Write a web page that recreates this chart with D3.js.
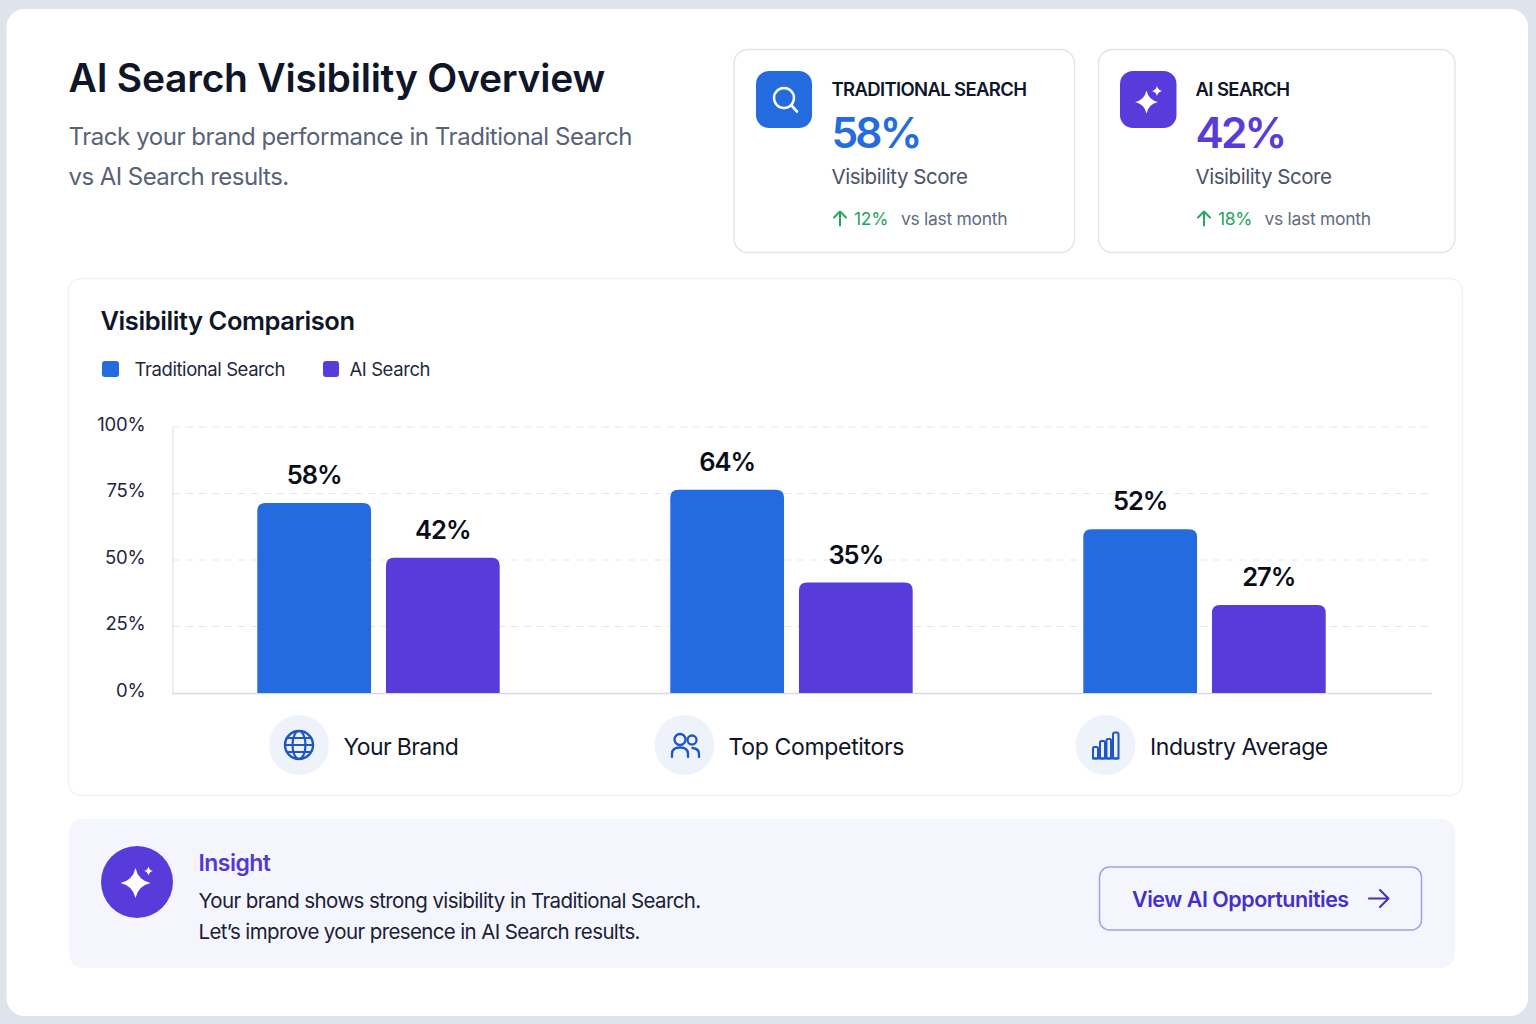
<!DOCTYPE html>
<html>
<head>
<meta charset="utf-8">
<script src="https://cdn.jsdelivr.net/npm/d3@7"></script>
<style>
  html, body { margin: 0; padding: 0; background: #dfe3ec; }
  svg { display: block; }
  text { font-family: "Inter", "Noto Sans", sans-serif; }
</style>
</head>
<body>
<div id="chart"></div>
<script>
// values
var categories = ["Your Brand", "Top Competitors", "Industry Average"]
var seriesNames = ["Traditional Search", "AI Search"]
// bar tops as they sit against the printed axis
var traditionalBars = [71.4, 76.4, 61.6]
var aiBars = [50.8, 41.5, 33.1]
// numbers printed above the bars
var traditionalLabels = ["58%", "64%", "52%"]
var aiLabels = ["42%", "35%", "27%"]
var yTicks = [0, 25, 50, 75, 100]

var blue = "#256be0", purple = "#583bdb", ink = "#0f1629"
var width = 1536, height = 1024

var svg = d3.select("#chart").append("svg")
  .attr("width", width)
  .attr("height", height)

function label(x, y, str, size, weight, color, spacing) {
  return svg.append("text")
    .attr("x", x).attr("y", y)
    .attr("font-size", size)
    .attr("font-weight", weight)
    .attr("fill", color)
    .attr("letter-spacing", spacing || 0)
    .text(str)
}
function box(x, y, w, h, r, fill, stroke) {
  return svg.append("rect")
    .attr("x", x).attr("y", y).attr("width", w).attr("height", h).attr("rx", r)
    .attr("fill", fill).attr("stroke", stroke || "none")
}
// four pointed star
function sparkle(cx, cy, r, fill) {
  var k = r * 0.18
  svg.append("path")
    .attr("d", "M" + cx + "," + (cy - r)
      + "Q" + (cx + k) + "," + (cy - k) + " " + (cx + r) + "," + cy
      + "Q" + (cx + k) + "," + (cy + k) + " " + cx + "," + (cy + r)
      + "Q" + (cx - k) + "," + (cy + k) + " " + (cx - r) + "," + cy
      + "Q" + (cx - k) + "," + (cy - k) + " " + cx + "," + (cy - r) + "Z")
    .attr("fill", fill)
}
function strokePath(d, color, w) {
  return svg.append("path").attr("d", d)
    .attr("fill", "none").attr("stroke", color)
    .attr("stroke-width", w).attr("stroke-linecap", "round").attr("stroke-linejoin", "round")
}
function upArrow(x, y, color) {
  strokePath("M" + x + "," + (y + 7) + "V" + (y - 7) + "M" + (x - 6) + "," + (y - 1) + "L" + x + "," + (y - 7) + "L" + (x + 6) + "," + (y - 1), color, 2)
}

// page card
box(6.5, 9, 1521.5, 1007, 18, "#ffffff")

// header
label(68.5, 92, "AI Search Visibility Overview", 39, 600, ink, -0.24)
label(68.5, 145, "Track your brand performance in Traditional Search", 24, 400, "#586278", -0.44)
label(68.5, 185, "vs AI Search results.", 24, 400, "#586278", -0.56)

// stat cards
box(734, 49.5, 340.5, 203, 14, "#ffffff", "#e1e4eb").attr("stroke-width", 1.4)
box(756, 71, 56, 57, 13, blue)
svg.append("circle").attr("cx", 784).attr("cy", 98).attr("r", 10)
  .attr("fill", "none").attr("stroke", "#fff").attr("stroke-width", 2.4)
strokePath("M791.5,105.5L797,111.5", "#fff", 2.6)
label(831.5, 96, "TRADITIONAL SEARCH", 18.5, 600, ink, -0.65)
label(831.5, 148, "58%", 42.5, 600, blue, -2.9)
label(831.5, 184, "Visibility Score", 20.5, 400, "#4a5268", -0.45)
upArrow(840, 218.5, "#27a561")
label(854, 225, "12%", 17.5, 400, "#27a561", -0.3)
label(901, 225, "vs last month", 17.5, 400, "#626b7f", -0.3)

box(1098.5, 49.5, 356.5, 203, 14, "#ffffff", "#e1e4eb").attr("stroke-width", 1.4)
box(1120, 71, 56.5, 57, 13, purple)
sparkle(1146.5, 102, 11.5, "#fff")
sparkle(1157, 91, 5, "#fff")
label(1195.5, 96, "AI SEARCH", 18.5, 600, ink, -0.6)
label(1195.5, 148, "42%", 42.5, 600, purple, -2.9)
label(1195.5, 184, "Visibility Score", 20.5, 400, "#4a5268", -0.45)
upArrow(1204, 218.5, "#27a561")
label(1218, 225, "18%", 17.5, 400, "#27a561", -0.3)
label(1264.5, 225, "vs last month", 17.5, 400, "#626b7f", -0.3)

// chart panel
box(68.5, 278.5, 1394, 517, 13, "#ffffff", "#f0f2f6").attr("stroke-width", 1.4)
label(100.5, 330, "Visibility Comparison", 25.5, 600, ink, -0.43)

box(102, 361, 17, 16, 3, blue)
label(134.5, 376, seriesNames[0], 18.5, 400, "#1f2740", -0.42)
box(323, 361, 16, 16, 3, purple)
label(349.5, 376, seriesNames[1], 18.5, 400, "#1f2740", -0.42)

var y = d3.scaleLinear().domain([0, 100]).range([693, 427])
var x0 = d3.scaleBand().domain(categories).range([172, 1411])
var x1 = d3.scaleBand().domain(seriesNames).range([0, x0.bandwidth()])
  .paddingInner(0.116).paddingOuter(0.663)

// gridlines
svg.selectAll("line.grid")
  .data(yTicks.filter(function(d) { return d > 0 }))
  .enter().append("line")
    .attr("class", "grid")
    .attr("x1", 173).attr("x2", 1432)
    .attr("y1", function(d) { return y(d) })
    .attr("y2", function(d) { return y(d) })
    .attr("stroke", "#e4e7ed")
    .attr("stroke-dasharray", "7,6")

var yAxis = svg.append("g")
  .attr("transform", "translate(172.5,0)")
  .call(d3.axisLeft(y).tickValues(yTicks).tickSize(0).tickPadding(27)
    .tickFormat(function(d) { return d + "%" }))
yAxis.select(".domain").attr("stroke", "#d8dbe3")
yAxis.selectAll("text")
  .attr("dy", "0.18em")
  .attr("fill", "#1f2740")
  .attr("font-size", 18.5)
  .attr("font-family", "Inter")
  .attr("letter-spacing", -0.2)

svg.append("line")
  .attr("x1", 172).attr("x2", 1432)
  .attr("y1", y(0) + 0.5).attr("y2", y(0) + 0.5)
  .attr("stroke", "#d8dbe3").attr("stroke-width", 1.4)

// bars with rounded top corners
function barPath(xPos, w, val) {
  var top = y(val), base = y(0), r = 8
  return "M" + xPos + "," + base + "V" + (top + r)
    + "Q" + xPos + "," + top + " " + (xPos + r) + "," + top
    + "H" + (xPos + w - r)
    + "Q" + (xPos + w) + "," + top + " " + (xPos + w) + "," + (top + r)
    + "V" + base + "Z"
}
var barSeries = [
  { name: seriesNames[0], vals: traditionalBars, labels: traditionalLabels, color: blue },
  { name: seriesNames[1], vals: aiBars, labels: aiLabels, color: purple }
]
barSeries.forEach(function(s) {
  var rows = categories.map(function(c, i) { return { cat: c, val: s.vals[i], txt: s.labels[i] } })
  svg.selectAll("path.bar-" + s.color.slice(1))
    .data(rows).enter().append("path")
      .attr("d", function(d) { return barPath(x0(d.cat) + x1(s.name), x1.bandwidth(), d.val) })
      .attr("fill", s.color)
  svg.selectAll("text.val-" + s.color.slice(1))
    .data(rows).enter().append("text")
      .attr("x", function(d) { return x0(d.cat) + x1(s.name) + x1.bandwidth() / 2 })
      .attr("y", function(d) { return y(d.val) - 19 })
      .attr("text-anchor", "middle")
      .attr("font-size", 25.5)
      .attr("font-weight", 600)
      .attr("letter-spacing", -1)
      .attr("fill", "#0a0d18")
      .text(function(d) { return d.txt })
})

// category row
var iconBlue = "#1f55c4"
var iconCircle = "#eef2fb"
svg.append("circle").attr("cx", 299).attr("cy", 745).attr("r", 30).attr("fill", iconCircle)
svg.append("circle").attr("cx", 684.5).attr("cy", 745).attr("r", 30).attr("fill", iconCircle)
svg.append("circle").attr("cx", 1105.5).attr("cy", 745).attr("r", 30).attr("fill", iconCircle)

// globe
svg.append("circle").attr("cx", 299).attr("cy", 745).attr("r", 14)
  .attr("fill", "none").attr("stroke", iconBlue).attr("stroke-width", 2.4)
svg.append("ellipse").attr("cx", 299).attr("cy", 745).attr("rx", 6.5).attr("ry", 14)
  .attr("fill", "none").attr("stroke", iconBlue).attr("stroke-width", 2.2)
strokePath("M285,745H313M287,738H311M287,752H311", iconBlue, 2.1)

// people
svg.append("circle").attr("cx", 680).attr("cy", 739.5).attr("r", 5.5)
  .attr("fill", "none").attr("stroke", iconBlue).attr("stroke-width", 2.3)
svg.append("circle").attr("cx", 692).attr("cy", 740).attr("r", 4.5)
  .attr("fill", "none").attr("stroke", iconBlue).attr("stroke-width", 2.3)
strokePath("M672,757V754Q672,747.5 680,747.5Q688,747.5 688,754V757", iconBlue, 2.3)
strokePath("M692.5,748Q699,748.5 699,754V757", iconBlue, 2.3)

// bars icon
strokePath("M1093,758.5H1118.5", iconBlue, 2.2)
box(1093, 747, 5, 11.5, 1.5, "none", iconBlue).attr("stroke-width", 2)
box(1100, 741, 5, 17.5, 1.5, "none", iconBlue).attr("stroke-width", 2)
box(1106.5, 739, 4.5, 19.5, 1.5, "none", iconBlue).attr("stroke-width", 2)
box(1113, 732.5, 5.5, 26, 2, "none", iconBlue).attr("stroke-width", 2)

label(343.5, 754.5, categories[0], 23, 400, ink, -0.6)
label(728.5, 754.5, categories[1], 23, 400, ink, -0.33)
label(1150, 754.5, categories[2], 23, 400, ink, -0.44)

// insight panel
box(69, 819, 1386, 149, 14, "#f5f6fd")
svg.append("circle").attr("cx", 137).attr("cy", 882).attr("r", 36).attr("fill", purple)
sparkle(135.5, 883, 15, "#fff")
sparkle(148.5, 871, 4.5, "#fff")
label(198.5, 871, "Insight", 23, 600, "#5438d6", -0.55)
label(198.5, 907.5, "Your brand shows strong visibility in Traditional Search.", 20.5, 400, "#1a2036", -0.6)
label(198.5, 938.5, "Let\u2019s improve your presence in AI Search results.", 20.5, 400, "#1a2036", -0.63)

box(1099.5, 867, 322, 63, 10, "none", "#a99de6").attr("stroke-width", 1.5)
label(1132, 907, "View AI Opportunities", 21.5, 600, "#4430c8", -0.48)
strokePath("M1369,898.5H1388M1380,890L1388.5,898.5L1380,907", "#4430c8", 2.1)
</script>
</body>
</html>
